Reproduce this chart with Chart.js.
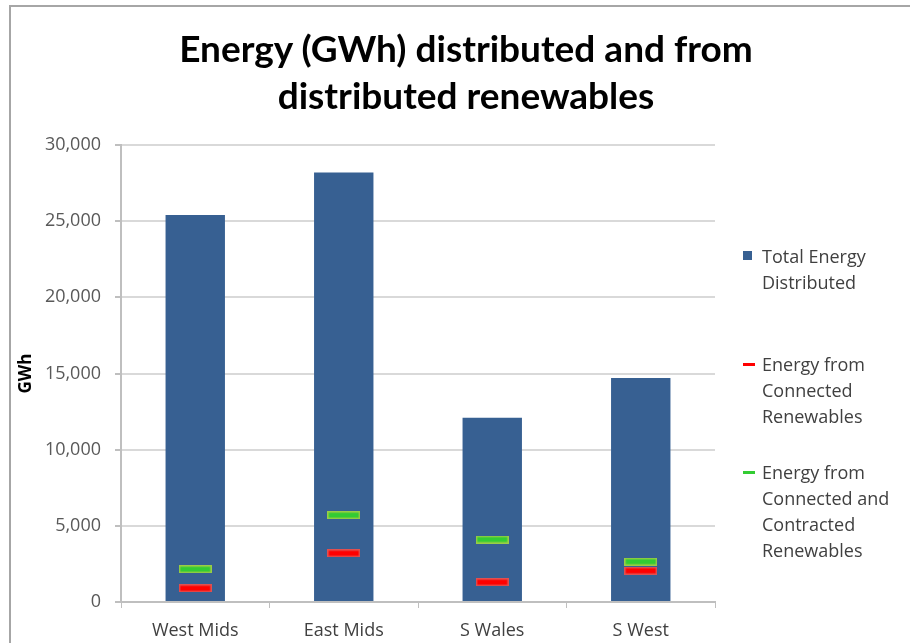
<!DOCTYPE html>
<html>
<head>
<meta charset="utf-8">
<script src="https://cdn.jsdelivr.net/npm/chart.js@4/dist/chart.umd.min.js"></script>
<style>
  html, body { margin: 0; padding: 0; background: #fff; overflow: hidden; }
  #wrap { position: relative; width: 910px; height: 643px; }
  #frame { position: absolute; left: 9px; top: 5px; width: 960px; height: 700px;
           border: 2px solid #a6a6a6; box-sizing: border-box; pointer-events: none; }
  #title { position: absolute; left: 166px; width: 600px; top: 24px; text-align: center;
           font-family: Lato, sans-serif; font-weight: bold; font-size: 37px; line-height: 47px; color: #000; }
  #legend { position: absolute; left: 743px; top: 243px; font-family: "Open Sans", sans-serif;
            font-size: 18px; line-height: 26px; color: #404040; }
  .item { position: relative; padding-left: 19px; }
  .sw { position: absolute; left: 0; }
</style>
</head>
<body>
<div id="wrap">
  <canvas id="chart" width="910" height="643"></canvas>
  <div id="frame"></div>
  <div id="title"></div>
  <div id="legend"></div>
</div>
<script>
const titleLines = ["Energy (GWh) distributed and from", "distributed renewables"];
const categories = ["West Mids", "East Mids", "S Wales", "S West"];
const totalEnergy = [25400, 28200, 12100, 14700];
const connected = [900, 3200, 1300, 2050];
const connectedContracted = [2150, 5700, 4100, 2650];
const yTicks = [0, 5000, 10000, 15000, 20000, 25000, 30000];

const seriesNames = [
  ["Total Energy", "Distributed"],
  ["Energy from", "Connected", "Renewables"],
  ["Energy from", "Connected and", "Contracted", "Renewables"]
];

document.getElementById("title").innerHTML = titleLines.join("<br>");

// small horizontal dash used as the marker for the renewables series
function dash(fill, stroke) {
  const c = document.createElement("canvas");
  c.width = 33;
  c.height = 8;
  const g = c.getContext("2d");
  g.fillStyle = stroke;
  g.fillRect(0, 0, 33, 8);
  g.fillStyle = fill;
  g.fillRect(1.5, 1.5, 30, 5);
  return c;
}

const redDash = dash("#ff0000", "#e05050");
const greenDash = dash("#33cc33", "#9acd45");

new Chart(document.getElementById("chart"), {
  data: {
    labels: categories,
    datasets: [
      {
        type: "bar",
        label: seriesNames[0].join(" "),
        data: totalEnergy,
        backgroundColor: "#376092",
        borderWidth: 0,
        categoryPercentage: 1,
        barPercentage: 0.4,
        order: 3
      },
      {
        type: "line",
        label: seriesNames[1].join(" "),
        data: connected,
        showLine: false,
        pointStyle: redDash,
        order: 1
      },
      {
        type: "line",
        label: seriesNames[2].join(" "),
        data: connectedContracted,
        showLine: false,
        pointStyle: greenDash,
        order: 2
      }
    ]
  },
  options: {
    responsive: false,
    animation: false,
    layout: { padding: { left: 10, right: 195, top: 145, bottom: 0 } },
    plugins: {
      legend: { display: false },
      tooltip: { enabled: false },
      title: { display: false }
    },
    scales: {
      x: {
        grid: { drawOnChartArea: false, drawTicks: true, tickLength: 6, tickColor: "#bfbfbf", offset: true },
        border: { color: "#bfbfbf", width: 2 },
        ticks: { color: "#404040", font: { family: "Open Sans", size: 18 }, padding: 12 },
        afterFit: (s) => { s.height = 41; }
      },
      y: {
        min: 0,
        max: 30000,
        afterBuildTicks: (s) => { s.ticks = yTicks.map((v) => ({ value: v })); },
        grid: { color: "#d9d9d9", lineWidth: 2, tickLength: 6, tickColor: "#bfbfbf" },
        border: { color: "#bfbfbf", width: 2 },
        ticks: {
          color: "#595959",
          font: { family: "Open Sans", size: 18 },
          padding: 14,
          callback: (v) => v.toLocaleString("en-US")
        },
        title: {
          display: true,
          text: "GWh",
          color: "#000",
          font: { family: "Open Sans", size: 17, weight: "bold" },
          padding: { top: 6, bottom: 0 }
        },
        afterFit: (s) => { s.width = 111; }
      }
    }
  }
});

// legend built from the same series names
const legend = document.getElementById("legend");
const swatches = [
  '<span class="sw" style="top:8px;width:9px;height:9px;background:#376092"></span>',
  '<span class="sw" style="top:12px;width:12px;height:3px;background:#ff0000"></span>',
  '<span class="sw" style="top:12px;width:12px;height:3px;background:#33cc33"></span>'
];
const gaps = [0, 56, 30];
legend.innerHTML = seriesNames.map((lines, i) =>
  `<div class="item" style="margin-top:${gaps[i]}px">${swatches[i]}${lines.join("<br>")}</div>`
).join("");
</script>
</body>
</html>
